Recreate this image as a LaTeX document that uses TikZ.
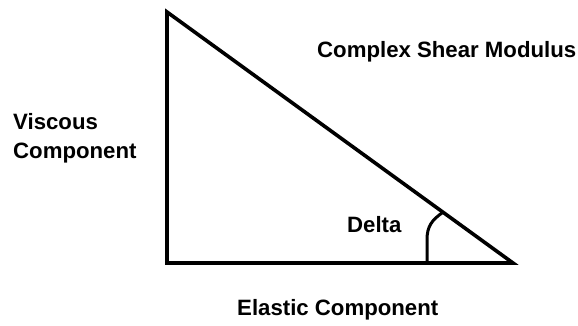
\documentclass[tikz,border=0pt]{standalone}
\usepackage{fontspec}
\setmainfont{Liberation Sans}
\begin{document}
\begin{tikzpicture}[x=1pt,y=-1pt,
  lbl/.style={anchor=base west,inner sep=0pt,font=\fontsize{22.2}{28}\selectfont\bfseries},
  edge/.style={line width=3.6pt,line join=miter}]
\useasboundingbox (0,0) rectangle (578,326);
\coordinate (top) at (167,12);
\coordinate (bl) at (167,263);
\coordinate (br) at (513,263);
\coordinate (arcA) at (427,263);
\coordinate (arcB) at (443,212.2);
\draw[edge] (top) -- (bl) -- (br) -- cycle;
\draw[line width=3pt] (arcA) -- (427,240) .. controls (427,226) and (432,220) .. (arcB);
\node[lbl] (visc1) at (13,130) {Viscous};
\node[lbl] (visc2) at (13,158) {Component};
\node[lbl] (csm) at (317,58) {Complex Shear Modulus};
\node[lbl] (delta) at (347,232) {Delta};
\node[lbl] (elastic) at (237,315) {Elastic Component};
\end{tikzpicture}
\end{document}
